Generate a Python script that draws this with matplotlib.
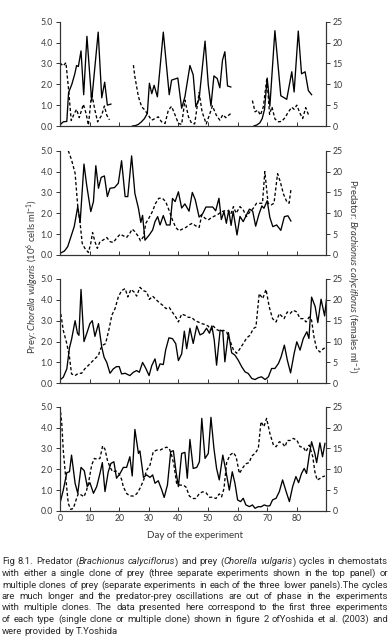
import numpy as np
import matplotlib
matplotlib.use('Agg')
import matplotlib.pyplot as plt

plt.rcParams['font.family'] = ['Lato', 'DejaVu Sans']
plt.rcParams['mathtext.fontset'] = 'custom'
plt.rcParams['mathtext.rm'] = 'Lato'
plt.rcParams['mathtext.it'] = 'Lato:italic'

# ---- data: (day, value) ----
# panel 1: single clone, three separate experiments
p1_prey_a = [(0, 0.05), (1.1, 0.2), (2.3, 0.22), (2.9, 1.6), (4, 2.0), (5, 2.5), (5.6, 2.9), (6.2, 2.85),
             (7.1, 3.6), (8, 1.5), (9.1, 4.3), (10.7, 1.2), (12.9, 4.5), (14.1, 1.35), (15.1, 2.1),
             (16, 1.0), (17.2, 1.05)]
p1_pred_a = [(0, 15.1), (1.1, 14.4), (2.0, 15.2), (2.8, 9.5), (3.8, 1.3), (4.7, 2.8), (5.6, 4.0), (6.5, 2.0),
             (7.9, 5.2), (8.8, 3.0), (9.6, 0.2), (10.7, 7.9), (11.8, 3.8), (12.7, 1.0), (14.1, 2.6),
             (15.0, 4.8), (15.8, 2.6), (16.7, 1.5)]
p1_prey_b = [(24.5, 0), (25.5, 0.02), (26.5, 0.08), (27.5, 0.2), (28.5, 0.35), (29.5, 0.6), (30.2, 2.05),
             (31, 1.55), (31.8, 1.95), (32.9, 1.4), (34.9, 4.5), (36.9, 1.5), (37.7, 2.2), (39.8, 2.3),
             (41.1, 0.85), (42.2, 1.4), (43.9, 2.9), (45, 2.45), (45.9, 0.92), (47, 1.3), (49, 4.07),
             (50.1, 1.96), (51, 0.96), (52, 2.4), (53.1, 2.28), (54, 1.83), (54.9, 3.16), (55.7, 3.56),
             (56.6, 1.92), (57.7, 1.87)]
p1_pred_b = [(24.8, 14.6), (25.3, 11.8), (26.5, 7), (27.6, 4.6), (28.7, 3.8), (29.8, 2.6), (31, 1.4),
             (32.1, 1.8), (33.2, 2.2), (34.3, 1.0), (35.5, 0.6), (36.6, 3.8), (37.7, 4.7), (38.9, 2.6),
             (40, 0.6), (41.1, 0.4), (42.2, 6.2), (43.4, 2.2), (44.5, 0.6), (45.5, 0.5), (47, 8.0),
             (48, 3.4), (49.4, 0.5), (50.4, 2.5), (51.5, 4.8), (52.8, 2.6), (54, 1.4), (55, 2.7),
             (56, 2.0), (57.7, 3.0)]
p1_prey_c = [(65.5, 0), (66.5, 0.05), (67.5, 0.15), (68.3, 0.35), (69.1, 0.8), (70.0, 2.3), (70.9, 0.95),
             (72.6, 4.57), (74.6, 1.45), (76.6, 1.28), (78.3, 2.6), (79.1, 1.63), (80.5, 4.55),
             (81.6, 2.5), (82.8, 2.6), (83.9, 1.7), (85.0, 1.5)]
p1_pred_c = [(65.0, 6.1), (65.9, 3.4), (66.8, 3.8), (67.7, 2.6), (68.7, 4.6), (69.9, 11.5), (70.8, 2.8),
             (71.6, 4.6), (72.6, 1.7), (73.8, 1.0), (74.9, 1.1), (76.0, 2.0), (77.1, 3.3), (78.3, 4.5),
             (79.1, 4.0), (80.0, 5.0), (81.1, 3.0), (82.0, 1.8), (83.0, 4.4), (84.0, 2.6)]

# panel 2: multiple clones
p2_prey = [(0, 0.08), (1.5, 0.19), (2.6, 0.4), (3.7, 0.88), (4.8, 1.36), (6.0, 2.32), (6.8, 1.55),
           (8.1, 4.36), (9.0, 3.36), (10.4, 2.08), (11.3, 2.56), (12.1, 4.28), (13.0, 3.2), (13.9, 3.72),
           (15.0, 3.79), (16.0, 2.8), (16.9, 3.2), (18.4, 3.23), (19.7, 3.44), (20.8, 4.52), (22.0, 2.8),
           (22.9, 2.8), (24.2, 4.75), (25.3, 2.95), (26.5, 2.24), (27.3, 1.56), (27.9, 1.9), (28.7, 0.71),
           (30.1, 0.95), (31.3, 1.2), (32.1, 1.6), (33.0, 1.84), (33.8, 1.44), (34.9, 1.89), (36.0, 1.44),
           (37.2, 1.44), (38.0, 2.71), (38.9, 2.56), (40.0, 3.03), (41.1, 2.25), (42.2, 2.45), (43.6, 2.1),
           (44.7, 3.0), (45.7, 2.65), (47.0, 1.82), (48.2, 1.98), (49.3, 2.3), (50.5, 2.3), (51.6, 2.3),
           (52.6, 2.12), (53.7, 2.72), (54.5, 1.7), (55.4, 2.08), (56.2, 1.52), (57.0, 2.15), (57.8, 1.42),
           (58.5, 2.1), (59.8, 0.96), (60.8, 1.85), (61.9, 1.6), (63.0, 1.92), (64.0, 2.2), (65.1, 2.1),
           (66.1, 1.38), (67.2, 1.95), (68.2, 2.35), (68.9, 2.24), (70.0, 2.6), (70.9, 1.8), (71.9, 1.36),
           (73.2, 1.44), (74.6, 1.18), (75.8, 1.84), (77.0, 1.88), (78.0, 1.63)]
p2_pred = [(2.8, 25), (3.9, 22.8), (5.1, 19.6), (6.0, 11.6), (6.8, 7.6), (7.5, 2.8), (8.4, 1.6), (9.6, 0.6),
           (10.4, 2.8), (11.0, 5.4), (11.8, 3.2), (12.6, 1.6), (13.5, 3.2), (14.6, 3.6), (15.8, 4.2),
           (16.9, 3.2), (18.0, 3.0), (19.1, 4.0), (20.3, 5.0), (21.4, 4.6), (22.5, 4.2), (23.6, 5.2),
           (24.4, 6.2), (25.3, 5.6), (26.5, 4.4), (27.2, 3.4), (28.2, 4.4), (29.0, 7.6), (30.0, 8.8),
           (31.2, 10.4), (32.3, 12.4), (33.4, 13.6), (34.6, 13.6), (35.7, 12.8), (36.8, 10.8), (38.0, 8.4),
           (39.1, 6.6), (40.2, 5.8), (41.3, 6.2), (42.5, 6.6), (43.6, 7.2), (44.7, 7.6), (45.8, 7.0),
           (47.0, 6.6), (47.9, 9.6), (49.0, 8.8), (50.1, 8.4), (51.2, 9.0), (52.4, 9.4), (53.5, 9.8),
           (54.6, 10.4), (55.7, 10.6), (56.9, 10.6), (57.7, 9.8), (58.6, 11.6), (59.5, 10.0), (60.8, 11.6),
           (61.9, 10.8), (63.0, 9.2), (64.2, 10.4), (65.3, 11.2), (66.4, 12.4), (67.6, 12.4), (68.4, 12.4),
           (69.2, 20.0), (70.3, 12.4), (71.3, 12.0), (72.3, 12.4), (73.5, 19.5), (74.4, 17.6), (75.5, 14.6),
           (76.6, 12.8), (77.4, 12.4), (78.0, 15.6)]

# panel 3: multiple clones
p3_prey = [(0, 0.16), (1.1, 0.29), (2.3, 0.69), (3.2, 1.7), (3.9, 2.1), (5.1, 3.0), (5.9, 2.4), (6.4, 2.3),
           (7.1, 4.5), (8.1, 2.0), (9.2, 2.46), (10.1, 2.86), (10.9, 3.0), (11.8, 2.25), (13.0, 2.86),
           (14.1, 1.74), (14.9, 1.25), (15.8, 1.0), (16.9, 0.48), (18.0, 0.69), (19.1, 0.8), (20.0, 0.8),
           (20.8, 0.45), (22.0, 0.48), (23.6, 0.37), (24.8, 0.53), (25.9, 0.61), (26.8, 0.53), (27.9, 1.0),
           (28.9, 0.74), (30.1, 0.37), (31.0, 0.85), (32.1, 1.17), (32.9, 0.61), (33.8, 0.93), (34.9, 0.9),
           (35.7, 1.6), (36.8, 2.18), (38.0, 2.14), (39.1, 1.9), (40.0, 1.09), (41.1, 1.41), (42.0, 2.5),
           (42.8, 1.66), (43.9, 2.64), (45.0, 1.91), (46.2, 2.75), (47.3, 2.32), (48.4, 2.4), (49.5, 2.64),
           (50.5, 2.4), (51.3, 2.75), (52.1, 2.08), (52.9, 0.87), (54.1, 2.55), (55.0, 2.5), (55.7, 1.03),
           (56.9, 2.43), (58.0, 1.46), (59.1, 1.35), (60.2, 1.11), (61.4, 0.79), (62.5, 0.55), (63.6, 0.47),
           (64.8, 0.23), (65.9, 0.18), (67.0, 0.27), (68.1, 0.31), (69.3, 0.18), (70.4, 0.31), (71.5, 0.71),
           (72.6, 0.71), (73.8, 0.95), (74.7, 1.27), (75.8, 1.83), (76.8, 1.11), (77.9, 0.5), (79.1, 1.43),
           (80.0, 1.99), (81.1, 1.59), (82.2, 2.15), (83.4, 2.47), (84.1, 2.15), (85.0, 4.13), (86.2, 3.68),
           (87.1, 2.91), (88.2, 4.03), (89.4, 3.23), (90.0, 4.0)]
p3_pred = [(0, 17.9), (1.1, 12.7), (2.3, 9.5), (3.2, 6.3), (3.9, 2.25), (5.1, 1.85), (6.2, 2.4), (7.3, 2.4),
           (8.4, 3.5), (9.6, 4.3), (10.7, 5.1), (11.8, 5.9), (13.0, 6.7), (13.5, 7.9), (14.3, 9.1),
           (15.4, 9.5), (16.6, 13.1), (17.5, 16.3), (18.6, 17.9), (19.7, 20.7), (20.8, 22.2), (22.0, 22.7),
           (22.9, 20.7), (24.0, 22.5), (25.0, 21.9), (25.9, 20.9), (27.0, 23.0), (28.2, 22.2), (29.3, 21.9),
           (30.2, 20.1), (31.3, 20.9), (32.4, 20.1), (33.6, 19.3), (34.7, 18.7), (35.8, 17.9), (36.9, 18.2),
           (38.1, 16.9), (39.2, 15.8), (40.0, 14.7), (41.1, 16.6), (42.2, 16.3), (43.4, 15.8), (44.5, 15.8),
           (45.6, 15.0), (46.7, 14.7), (47.9, 14.3), (49.0, 14.1), (50.1, 13.7), (50.9, 12.7), (51.8, 13.7),
           (52.9, 12.9), (54.1, 12.5), (55.2, 12.7), (56.3, 12.3), (57.4, 10.3), (58.6, 8.0), (59.7, 7.2),
           (60.8, 8.3), (61.9, 9.5), (63.1, 10.9), (64.2, 11.5), (65.3, 13.1), (66.2, 13.5), (67.3, 21.5),
           (68.5, 20.3), (69.6, 22.5), (70.7, 18.3), (71.8, 15.5), (73.0, 14.7), (74.1, 16.7), (75.7, 15.5),
           (76.8, 17.1), (77.7, 16.7), (78.8, 17.5), (80.0, 17.1), (81.1, 15.5), (82.2, 15.5), (83.1, 14.7),
           (84.2, 15.9), (85.0, 15.1), (85.8, 11.1), (86.7, 8.3), (87.8, 7.5), (89.0, 8.3), (90.0, 8.7)]

# panel 4: multiple clones
p4_prey = [(0, 0.37), (1.1, 1.0), (2.3, 1.84), (3.2, 1.88), (3.9, 2.68), (5.1, 1.33), (6.0, 0.85),
           (7.1, 2.09), (8.2, 1.93), (9.2, 1.17), (10.1, 1.36), (11.3, 0.85), (12.4, 1.17), (13.5, 1.8),
           (14.3, 2.32), (15.2, 0.93), (16.3, 1.88), (17.2, 2.28), (18.2, 2.36), (19.1, 1.57), (20.3, 1.8),
           (21.4, 2.09), (22.5, 2.09), (23.6, 2.6), (24.4, 1.68), (25.3, 3.91), (26.5, 2.76), (27.0, 2.88),
           (28.2, 1.61), (29.3, 1.73), (30.4, 1.61), (31.3, 1.73), (32.1, 1.33), (33.2, 1.45), (34.3, 1.04),
           (35.2, 0.65), (36.3, 1.25), (37.4, 2.84), (38.3, 2.89), (39.2, 1.88), (40.0, 1.17), (41.1, 2.76),
           (42.2, 2.81), (43.0, 1.57), (43.9, 3.43), (45.0, 2.04), (46.2, 2.09), (47.1, 2.36), (47.9, 4.44),
           (49.0, 2.52), (50.1, 2.76), (51.0, 4.49), (52.0, 3.0), (52.9, 2.04), (53.8, 1.49), (55.0, 2.68),
           (56.1, 1.88), (57.2, 1.0), (58.2, 1.88), (59.1, 1.33), (60.0, 0.53), (61.0, 0.45), (61.9, 0.61),
           (62.8, 0.29), (64.0, 0.21), (65.0, 0.29), (65.9, 0.13), (67.0, 0.21), (67.9, 0.2), (69.0, 0.29),
           (70.0, 0.24), (70.9, 0.25), (71.8, 0.53), (73.0, 0.61), (74.1, 0.93), (75.2, 1.49), (76.4, 0.93),
           (77.5, 0.45), (78.6, 1.17), (79.7, 1.65), (80.6, 1.36), (81.6, 1.8), (82.5, 2.04), (83.3, 1.8),
           (84.2, 2.68), (85.0, 3.32), (86.1, 2.76), (86.7, 2.32), (87.8, 3.27), (88.7, 2.6), (89.5, 3.24)]
p4_pred = [(0, 25), (0.6, 21), (1.1, 14.6), (1.9, 8.2), (2.8, 1.8), (3.6, 0.4), (4.5, 0.6), (5.4, 2.6),
           (6.2, 4.2), (7.3, 3.8), (8.1, 3.4), (9.0, 5.0), (9.9, 7.8), (10.7, 11.0), (11.6, 12.6),
           (12.6, 12.4), (13.5, 12.6), (14.4, 15.6), (15.2, 14.8), (16.0, 12.2), (16.9, 10.5), (17.8, 9.4),
           (18.9, 9.6), (19.9, 9.0), (20.8, 7.6), (21.4, 5.8), (22.5, 4.2), (23.6, 3.6), (24.8, 3.6),
           (25.9, 4.1), (27.0, 5.4), (28.2, 7.3), (29.3, 9.8), (30.4, 11.0), (31.5, 14.2), (32.7, 14.6),
           (33.8, 14.6), (34.9, 15.0), (36.0, 15.3), (36.9, 15.0), (37.7, 13.4), (38.5, 11.0), (39.4, 6.6),
           (40.5, 6.2), (41.7, 6.2), (42.6, 5.7), (43.7, 3.6), (44.8, 3.0), (45.9, 3.0), (47.1, 4.2),
           (48.2, 4.6), (49.3, 4.4), (50.5, 3.3), (51.6, 3.3), (52.7, 3.0), (53.8, 4.1), (54.6, 3.4),
           (55.4, 5.4), (56.3, 11.6), (57.4, 13.4), (58.6, 14.0), (59.5, 13.0), (60.6, 9.0), (61.6, 10.2),
           (62.7, 11.3), (63.9, 11.6), (64.8, 13.2), (65.9, 13.8), (67.0, 15.0), (67.9, 21.4), (68.9, 20.2),
           (69.8, 22.2), (70.9, 18.6), (72.1, 15.8), (73.0, 15.4), (74.1, 16.6), (75.2, 16.2), (76.0, 15.4),
           (76.8, 16.9), (77.7, 16.9), (78.8, 17.4), (80.0, 17.0), (81.1, 15.4), (82.2, 15.3), (83.1, 14.2),
           (84.2, 15.8), (85.4, 13.0), (86.1, 9.4), (86.9, 7.4), (87.8, 7.8), (88.7, 8.2), (89.5, 8.4)]

panels = [
    ([p1_prey_a, p1_prey_b, p1_prey_c], [p1_pred_a, p1_pred_b, p1_pred_c]),
    ([p2_prey], [p2_pred]),
    ([p3_prey], [p3_pred]),
    ([p4_prey], [p4_pred]),
]

prey_ticks = [0, 1, 2, 3, 4, 5]
pred_ticks = [0, 5, 10, 15, 20, 25]
day_ticks = [0, 10, 20, 30, 40, 50, 60, 70, 80]

caption = [
    "Fig 8.1. Predator (*Brachionus* *calyciflorus*) and prey (*Chorella* *vulgaris*) cycles in chemostats",
    "with either a single clone of prey (three separate experiments shown in the top panel) or",
    "multiple clones of prey (separate experiments in each of the three lower panels).The cycles",
    "are much longer and the predator-prey oscillations are out of phase in the experiments",
    "with multiple clones. The data presented here correspond to the first three experiments",
    "of each type (single clone or multiple clone) shown in figure 2 ofYoshida et al. (2003) and",
    "were provided by T.Yoshida",
]

# ---- layout ----
W, H = 390.0, 640.0
fig = plt.figure(figsize=(W / 100, H / 100), dpi=100)
tops = [21.7, 150.7, 279.0, 406.7]
ph = 104.3
left, right = 60.0, 326.4
txt = '#3a3a3a'
spc = '#333333'

for i, (preys, preds) in enumerate(panels):
    top = tops[i]
    ax = fig.add_axes([left / W, 1 - (top + ph) / H, (right - left) / W, ph / H])
    ax2 = ax.twinx()
    for s in preys:
        d = np.array(s)
        ax.plot(d[:, 0], d[:, 1], color='black', lw=0.95)
    for s in preds:
        d = np.array(s)
        ax2.plot(d[:, 0], d[:, 1], color='black', lw=0.95, ls=(0, (2.4, 1.7)))
    ax.set_xlim(0, 90)
    ax.set_ylim(0, 5)
    ax2.set_ylim(0, 25)
    ax.set_xticks(day_ticks)
    ax.set_yticks(prey_ticks)
    ax.set_yticklabels(['%.1f' % t for t in prey_ticks])
    ax2.set_yticks(pred_ticks)
    ax.tick_params(axis='x', direction='in', length=3, width=0.7, color=spc,
                   labelsize=6.3, labelcolor=txt, pad=2)
    ax.tick_params(axis='y', direction='out', length=3, width=0.7, color=spc,
                   labelsize=6.3, labelcolor=txt, pad=2)
    ax2.tick_params(axis='y', direction='out', length=3, width=0.7, color=spc,
                    labelsize=6.3, labelcolor=txt, pad=1.5)
    if i < 3:
        ax.tick_params(axis='x', labelbottom=False)
    for a in (ax, ax2):
        a.spines['top'].set_visible(False)
        for k in ('left', 'right', 'bottom'):
            a.spines[k].set_color(spc)
            a.spines[k].set_linewidth(0.8)
    ax.patch.set_visible(False)

fig.text(195 / W, 1 - 535 / H, 'Day of the experiment', ha='center', va='center',
         fontsize=7, color=txt)
fig.text(33 / W, 1 - 276 / H, r'Prey: $\it{Chorella\ vulgaris}$ (10$^6$ cells ml$^{-1}$)',
         rotation=90, ha='center', va='center', fontsize=6.8, color=txt)
fig.text(352 / W, 1 - 276 / H, r'Predator: $\it{Brachionus\ calyciflorus}$ (females ml$^{-1}$)',
         rotation=270, ha='center', va='center', fontsize=6.8, color=txt)

# ---- caption, justified word by word ----
cap_font = ['Roboto', 'DejaVu Sans']
fig.canvas.draw()
r = fig.canvas.get_renderer()
x0, x1 = 2.0, 388.0
for i, line in enumerate(caption):
    y = 1 - (562 + i * 11.5) / H
    items = []
    for w in line.split(' '):
        arts = []
        for k, p in enumerate(w.split('*')):
            if p == '':
                continue
            arts.append(fig.text(0, y, p, fontsize=6.8, family=cap_font, color='#2a2a2a',
                                 style='italic' if k % 2 else 'normal', va='center'))
        items.append(arts)
    widths = [[a.get_window_extent(r).width for a in arts] for arts in items]
    tot = sum(sum(ws) for ws in widths)
    if i < len(caption) - 1:
        gap = (x1 - x0 - tot) / (len(items) - 1)
    else:
        gap = 2.4
    x = x0
    for arts, ws in zip(items, widths):
        for a, wd in zip(arts, ws):
            a.set_x(x / W)
            x += wd
        x += gap

fig.savefig('out.png', dpi=100)
